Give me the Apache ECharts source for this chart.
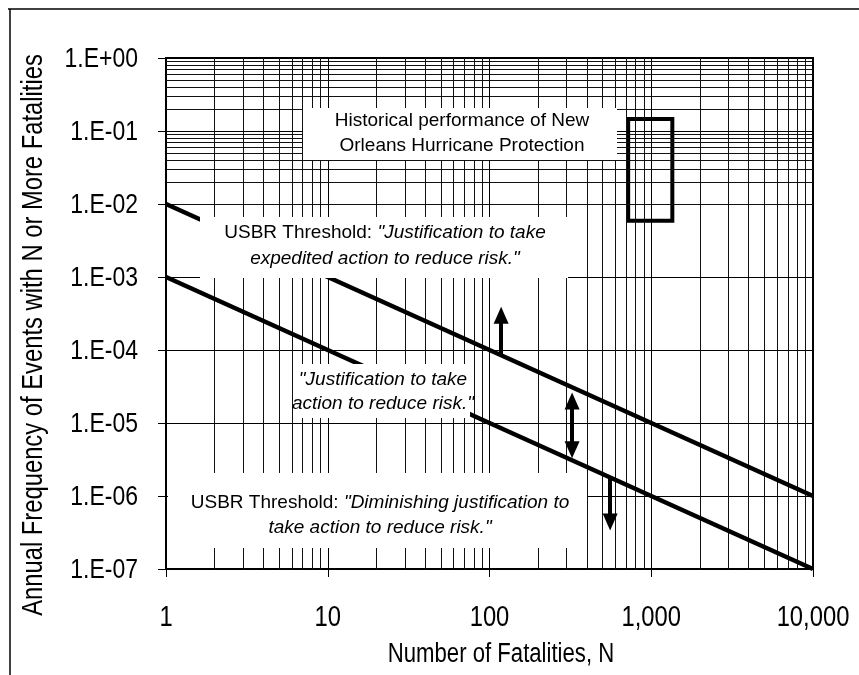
<!DOCTYPE html>
<html><head><meta charset="utf-8">
<script src="https://cdn.jsdelivr.net/npm/echarts@6/dist/echarts.min.js"></script>
<style>html,body{margin:0;padding:0;background:#fff}#c{width:859px;height:675px}</style>
</head><body><div id="c"></div>
<script>
// ---- data ----
const xTickValues = [1, 10, 100, 1000, 10000];
const xTickLabels = ['1', '10', '100', '1,000', '10,000'];
const yTickValues = [1e-7, 1e-6, 1e-5, 1e-4, 1e-3, 1e-2, 1e-1, 1];
const yTickLabels = ['1.E-07', '1.E-06', '1.E-05', '1.E-04', '1.E-03', '1.E-02', '1.E-01', '1.E+00'];
const thresholdN = [1, 10000];
const upperThreshold = [1e-2, 1e-6];   // expedited action
const lowerThreshold = [1e-3, 1e-7];   // diminishing justification
const histN = [720, 1350];             // historical performance box (N range)
const histFreq = [0.0059, 0.146];      // historical performance box (frequency range)
const arrowN = [118, 324, 557];
const arrowFrom = [8.6e-5, 2.0e-5, 1.8e-6];
const arrowTo = [3.0e-4, 4.3e-6, 4.4e-7];
const arrowBoth = [false, true, false];

// ---- chart ----
const chart = echarts.init(document.getElementById('c'), null, {renderer: 'canvas'});
const textFont = "'Liberation Sans', Arial, sans-serif";
const NARROW = 0.82;

const minorX = [], minorY = [];
for (let e = 0; e <= 3; e++) for (let k = 2; k <= 9; k++) minorX.push(k * Math.pow(10, e));
for (let e = -7; e <= -1; e++) for (let k = 2; k <= 9; k++) minorY.push(k * Math.pow(10, e));
const gridLineData = minorX.map(v => ({xAxis: v})).concat(minorY.map(v => ({yAxis: v})));

const arrowLines = arrowN.map((n, i) => [
  {coord: [n, arrowFrom[i]], symbol: arrowBoth[i] ? 'triangle' : 'none', symbolSize: [15, 17]},
  {coord: [n, arrowTo[i]], symbol: 'triangle', symbolSize: [15, 17]}
]);
function thrData(vals) { return thresholdN.map((n, i) => [n, vals[i]]); }

const option = {
  animation: false,
  backgroundColor: '#fff',
  grid: {left: 166, right: 46, top: 58, bottom: 106, show: true, borderColor: '#000', borderWidth: 2},
  xAxis: {
    type: 'log', logBase: 10, min: 1, max: 10000,
    axisLine: {show: true, lineStyle: {color: '#000', width: 2}},
    axisTick: {show: true, length: 8, lineStyle: {color: '#000', width: 1}},
    splitLine: {show: true, lineStyle: {color: '#000', width: 1}},
    axisLabel: {show: false}
  },
  yAxis: {
    type: 'log', logBase: 10, min: 1e-7, max: 1,
    axisLine: {show: true, lineStyle: {color: '#000', width: 2}},
    axisTick: {show: true, length: 8, lineStyle: {color: '#000', width: 1}},
    splitLine: {show: true, lineStyle: {color: '#000', width: 1}},
    axisLabel: {show: false}
  },
  series: [
    {
      type: 'line', data: [], silent: true,
      markLine: {
        silent: true, symbol: 'none', animation: false,
        label: {show: false},
        lineStyle: {color: '#111', width: 1, type: 'solid'},
        emphasis: {disabled: true},
        data: gridLineData
      }
    },
    {
      type: 'line', data: thrData(upperThreshold), symbol: 'none', z: 5,
      lineStyle: {color: '#000', width: 4.5}
    },
    {
      type: 'line', data: thrData(lowerThreshold), symbol: 'none', z: 5,
      lineStyle: {color: '#000', width: 4.5},
      markArea: {
        silent: true,
        itemStyle: {color: 'rgba(0,0,0,0)', borderColor: '#000', borderWidth: 4},
        data: [[{coord: [histN[0], histFreq[1]]}, {coord: [histN[1], histFreq[0]]}]]
      }
    },
    {
      type: 'line', data: [], z: 6,
      markLine: {
        silent: true, animation: false,
        label: {show: false},
        lineStyle: {color: '#000', width: 4, type: 'solid'},
        itemStyle: {color: '#000'},
        data: arrowLines
      }
    }
  ]
};
chart.setOption(option);

// ---- tick labels placed through the axes ----
const graphics = [];
xTickValues.forEach((v, i) => {
  const px = chart.convertToPixel({xAxisIndex: 0}, v);
  graphics.push({type: 'text', z: 100, x: px, y: 618, scaleX: NARROW,
    style: {text: xTickLabels[i], fill: '#000', font: '29px ' + textFont, align: 'center', verticalAlign: 'middle'}});
});
yTickValues.forEach((v, i) => {
  const py = chart.convertToPixel({yAxisIndex: 0}, v);
  graphics.push({type: 'text', z: 100, x: 138, y: py + 1, scaleX: NARROW,
    style: {text: yTickLabels[i], fill: '#000', font: '28px ' + textFont, align: 'right', verticalAlign: 'middle'}});
});

graphics.push(
  // page border (top and left)
  {type: 'line', z: 100, shape: {x1: 8, y1: 9, x2: 859, y2: 9}, style: {stroke: '#000', lineWidth: 1.5}},
  {type: 'line', z: 100, shape: {x1: 10, y1: 9, x2: 10, y2: 675}, style: {stroke: '#000', lineWidth: 1.5}},
  // axis titles
  {type: 'text', z: 100, x: 34, y: 335, rotation: Math.PI / 2, scaleX: NARROW,
    style: {text: 'Annual Frequency of Events with N or More Fatalities', fill: '#000',
      font: '29px ' + textFont, align: 'center', verticalAlign: 'middle'}},
  {type: 'text', z: 100, x: 501, y: 655, scaleX: NARROW,
    style: {text: 'Number of Fatalities, N', fill: '#000',
      font: '27px ' + textFont, align: 'center', verticalAlign: 'middle'}},
  // annotation boxes
  {type: 'rect', z: 100, shape: {x: 303, y: 108, width: 314, height: 52}, style: {fill: '#fff'}},
  {type: 'text', z: 101, x: 462, y: 133,
    style: {text: 'Historical performance of New\nOrleans Hurricane Protection', fill: '#000',
      font: '19px ' + textFont, lineHeight: 25, align: 'center', verticalAlign: 'middle'}},

  {type: 'rect', z: 100, shape: {x: 200, y: 217, width: 368, height: 61}, style: {fill: '#fff'}},
  {type: 'text', z: 101, x: 385, y: 246,
    style: {text: '{n|USBR Threshold: }{i|"Justification to take}\n{i|expedited action to reduce risk."}',
      fill: '#000', align: 'center', verticalAlign: 'middle',
      rich: {n: {fontSize: 19, fontFamily: textFont, lineHeight: 26, fill: '#000'},
             i: {fontSize: 19, fontFamily: textFont, fontStyle: 'italic', lineHeight: 26, fill: '#000'}}}},

  {type: 'rect', z: 100, shape: {x: 296, y: 364, width: 174, height: 54}, style: {fill: '#fff'}},
  {type: 'text', z: 101, x: 383, y: 392,
    style: {text: '{i|"Justification to take}\n{i|action to reduce risk."}',
      fill: '#000', align: 'center', verticalAlign: 'middle',
      rich: {i: {fontSize: 19, fontFamily: textFont, fontStyle: 'italic', lineHeight: 24, fill: '#000'}}}},

  {type: 'rect', z: 100, shape: {x: 168, y: 473, width: 419, height: 75}, style: {fill: '#fff'}},
  {type: 'text', z: 101, x: 380, y: 515,
    style: {text: '{n|USBR Threshold: }{i|"Diminishing justification to}\n{i|take action to reduce risk."}',
      fill: '#000', align: 'center', verticalAlign: 'middle',
      rich: {n: {fontSize: 19, fontFamily: textFont, lineHeight: 25, fill: '#000'},
             i: {fontSize: 19, fontFamily: textFont, fontStyle: 'italic', lineHeight: 25, fill: '#000'}}}}
);
chart.setOption({graphic: graphics});
</script>
</body></html>
